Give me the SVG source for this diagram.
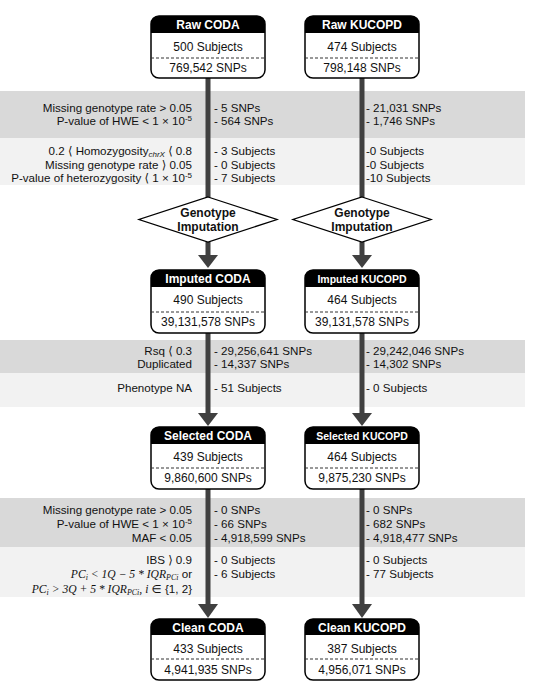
<svg xmlns="http://www.w3.org/2000/svg" width="534" height="690" viewBox="0 0 534 690">
<defs>
<style>
text{font-family:"Liberation Sans","DejaVu Sans","Noto Sans CJK KR",sans-serif;font-size:12px;fill:#111}
#labels text{font-size:11.6px}
.r{text-anchor:end}
.c{text-anchor:middle}
.h{font-weight:bold;fill:#fff;font-size:12px}
.dk{fill:#d9d9d9}
.lt{fill:#f2f2f2}
.box{fill:#fff;stroke:#000;stroke-width:1.5}
.hd{fill:#000}
.dash{stroke:#333;stroke-width:1;stroke-dasharray:3,2}
.sh{fill:#404040}
.dia{fill:#fff;stroke:#000;stroke-width:1.3}
.b{font-weight:bold}
.m{font-family:"Liberation Serif","DejaVu Serif",serif;font-style:italic}
.sub{font-size:8px}
</style>
</defs>
<rect width="534" height="690" fill="#fff"/>
<g id="bands">
<rect class="dk" x="0" y="91" width="525" height="47"/>
<rect class="lt" x="0" y="138" width="525" height="47"/>
<rect class="dk" x="0" y="340" width="525" height="33"/>
<rect class="lt" x="0" y="373" width="525" height="34"/>
<rect class="dk" x="0" y="498" width="525" height="49"/>
<rect class="lt" x="0" y="547" width="525" height="50"/>
</g>
<g id="labels">
<text class="r" x="192" y="112">Missing genotype rate &gt; 0.05</text>
<text class="r" x="192" y="125">P-value of HWE &lt; 1 × 10<tspan class="sub" dy="-4">-5</tspan></text>
<text class="r" x="192" y="155">0.2 ⟨ Homozygosity<tspan class="sub" font-style="italic" dy="2">chrX</tspan><tspan dy="-2"> ⟨ 0.8</tspan></text>
<text class="r" x="192" y="169">Missing genotype rate ⟩ 0.05</text>
<text class="r" x="192" y="182">P-value of heterozygosity ⟨ 1 × 10<tspan class="sub" dy="-4">-5</tspan></text>
<text x="214" y="112">- 5 SNPs</text>
<text x="214" y="125">- 564 SNPs</text>
<text x="214" y="155">- 3 Subjects</text>
<text x="214" y="169">- 0 Subjects</text>
<text x="214" y="182">- 7 Subjects</text>
<text x="366" y="112">- 21,031 SNPs</text>
<text x="366" y="125">- 1,746 SNPs</text>
<text x="366" y="155">-0 Subjects</text>
<text x="366" y="169">-0 Subjects</text>
<text x="366" y="182">-10 Subjects</text>
<text class="r" x="192" y="355">Rsq ⟨ 0.3</text>
<text class="r" x="192" y="368">Duplicated</text>
<text class="r" x="192" y="392">Phenotype NA</text>
<text x="214" y="355">- 29,256,641 SNPs</text>
<text x="214" y="368">- 14,337 SNPs</text>
<text x="214" y="392">- 51 Subjects</text>
<text x="366" y="355">- 29,242,046 SNPs</text>
<text x="366" y="368">- 14,302 SNPs</text>
<text x="366" y="392">- 0 Subjects</text>
<text class="r" x="192" y="514">Missing genotype rate &gt; 0.05</text>
<text class="r" x="192" y="528">P-value of HWE &lt; 1 × 10<tspan class="sub" dy="-4">-5</tspan></text>
<text class="r" x="192" y="542">MAF &lt; 0.05</text>
<text class="r" x="192" y="564">IBS ⟩ 0.9</text>
<text class="r" x="192" y="578"><tspan class="m">PC</tspan><tspan class="m sub" dy="2">i</tspan><tspan class="m" dy="-2"> &lt; 1Q − 5 * IQR</tspan><tspan class="m sub" dy="2">PCi</tspan><tspan dy="-2"> or</tspan></text>
<text class="r" x="192" y="593"><tspan class="m">PC</tspan><tspan class="m sub" dy="2">i</tspan><tspan class="m" dy="-2"> &gt; 3Q + 5 * IQR</tspan><tspan class="m sub" dy="2">PCi</tspan><tspan class="m" dy="-2">, i</tspan><tspan> ∈ {1, 2}</tspan></text>
<text x="214" y="514">- 0 SNPs</text>
<text x="214" y="528">- 66 SNPs</text>
<text x="214" y="542">- 4,918,599 SNPs</text>
<text x="214" y="564">- 0 Subjects</text>
<text x="214" y="578">- 6 Subjects</text>
<text x="366" y="514">- 0 SNPs</text>
<text x="366" y="528">- 682 SNPs</text>
<text x="366" y="542">- 4,918,477 SNPs</text>
<text x="366" y="564">- 0 Subjects</text>
<text x="366" y="578">- 77 Subjects</text>
</g>
<g id="connectors">
<rect class="sh" x="205.5" y="78" width="5" height="120"/>
<rect class="sh" x="359.5" y="78" width="5" height="120"/>
<rect class="sh" x="205.5" y="242" width="5" height="14"/>
<polygon class="sh" points="198,255 218,255 208,268"/>
<rect class="sh" x="359.5" y="242" width="5" height="14"/>
<polygon class="sh" points="352,255 372,255 362,268"/>
<rect class="sh" x="205.5" y="332" width="5" height="82"/>
<polygon class="sh" points="198,413 218,413 208,426"/>
<rect class="sh" x="359.5" y="332" width="5" height="82"/>
<polygon class="sh" points="352,413 372,413 362,426"/>
<rect class="sh" x="205.5" y="489" width="5" height="116"/>
<polygon class="sh" points="198,604 218,604 208,618"/>
<rect class="sh" x="359.5" y="489" width="5" height="116"/>
<polygon class="sh" points="352,604 372,604 362,618"/>
</g>
<g id="raw-coda">
<rect class="box" x="151" y="16" width="114" height="62" rx="8"/>
<path class="hd" d="M151,33 V24 a8,8 0 0 1 8,-8 H257 a8,8 0 0 1 8,8 V33 Z"/>
<text class="h c" x="208" y="29">Raw CODA</text>
<text class="c" x="208" y="51">500 Subjects</text>
<line class="dash" x1="151" y1="58" x2="265" y2="58"/>
<text class="c" x="208" y="72">769,542 SNPs</text>
</g>
<g id="raw-kucopd">
<rect class="box" x="305" y="16" width="114" height="62" rx="8"/>
<path class="hd" d="M305,33 V24 a8,8 0 0 1 8,-8 H411 a8,8 0 0 1 8,8 V33 Z"/>
<text class="h c" x="362" y="29">Raw KUCOPD</text>
<text class="c" x="362" y="51">474 Subjects</text>
<line class="dash" x1="305" y1="58" x2="419" y2="58"/>
<text class="c" x="362" y="72">798,148 SNPs</text>
</g>
<g id="imp-coda-diamond">
<polygon class="dia" points="208,197 277,219.5 208,242 139,219.5"/>
<text class="b c" x="208" y="217">Genotype</text>
<text class="b c" x="208" y="231">Imputation</text>
</g>
<g id="imp-kucopd-diamond">
<polygon class="dia" points="362,197 431,219.5 362,242 293,219.5"/>
<text class="b c" x="362" y="217">Genotype</text>
<text class="b c" x="362" y="231">Imputation</text>
</g>
<g id="imputed-coda">
<rect class="box" x="151" y="270" width="114" height="63" rx="8"/>
<path class="hd" d="M151,287 V278 a8,8 0 0 1 8,-8 H257 a8,8 0 0 1 8,8 V287 Z"/>
<text class="h c" x="208" y="283">Imputed CODA</text>
<text class="c" x="208" y="304">490 Subjects</text>
<line class="dash" x1="151" y1="312" x2="265" y2="312"/>
<text class="c" x="208" y="326">39,131,578 SNPs</text>
</g>
<g id="imputed-kucopd">
<rect class="box" x="305" y="270" width="114" height="63" rx="8"/>
<path class="hd" d="M305,287 V278 a8,8 0 0 1 8,-8 H411 a8,8 0 0 1 8,8 V287 Z"/>
<text class="h c" x="362" y="283" style="font-size:10.5px">Imputed KUCOPD</text>
<text class="c" x="362" y="304">464 Subjects</text>
<line class="dash" x1="305" y1="312" x2="419" y2="312"/>
<text class="c" x="362" y="326">39,131,578 SNPs</text>
</g>
<g id="selected-coda">
<rect class="box" x="151" y="427" width="114" height="62" rx="8"/>
<path class="hd" d="M151,444 V435 a8,8 0 0 1 8,-8 H257 a8,8 0 0 1 8,8 V444 Z"/>
<text class="h c" x="208" y="440">Selected CODA</text>
<text class="c" x="208" y="461">439 Subjects</text>
<line class="dash" x1="151" y1="468" x2="265" y2="468"/>
<text class="c" x="208" y="482">9,860,600 SNPs</text>
</g>
<g id="selected-kucopd">
<rect class="box" x="305" y="427" width="114" height="62" rx="8"/>
<path class="hd" d="M305,444 V435 a8,8 0 0 1 8,-8 H411 a8,8 0 0 1 8,8 V444 Z"/>
<text class="h c" x="362" y="440" style="font-size:10.5px">Selected KUCOPD</text>
<text class="c" x="362" y="461">464 Subjects</text>
<line class="dash" x1="305" y1="468" x2="419" y2="468"/>
<text class="c" x="362" y="482">9,875,230 SNPs</text>
</g>
<g id="clean-coda">
<rect class="box" x="151" y="619" width="114" height="61" rx="8"/>
<path class="hd" d="M151,635 V627 a8,8 0 0 1 8,-8 H257 a8,8 0 0 1 8,8 V635 Z"/>
<text class="h c" x="208" y="632">Clean CODA</text>
<text class="c" x="208" y="653">433 Subjects</text>
<line class="dash" x1="151" y1="659" x2="265" y2="659"/>
<text class="c" x="208" y="674">4,941,935 SNPs</text>
</g>
<g id="clean-kucopd">
<rect class="box" x="305" y="619" width="114" height="61" rx="8"/>
<path class="hd" d="M305,635 V627 a8,8 0 0 1 8,-8 H411 a8,8 0 0 1 8,8 V635 Z"/>
<text class="h c" x="362" y="632">Clean KUCOPD</text>
<text class="c" x="362" y="653">387 Subjects</text>
<line class="dash" x1="305" y1="659" x2="419" y2="659"/>
<text class="c" x="362" y="674">4,956,071 SNPs</text>
</g>
</svg>
